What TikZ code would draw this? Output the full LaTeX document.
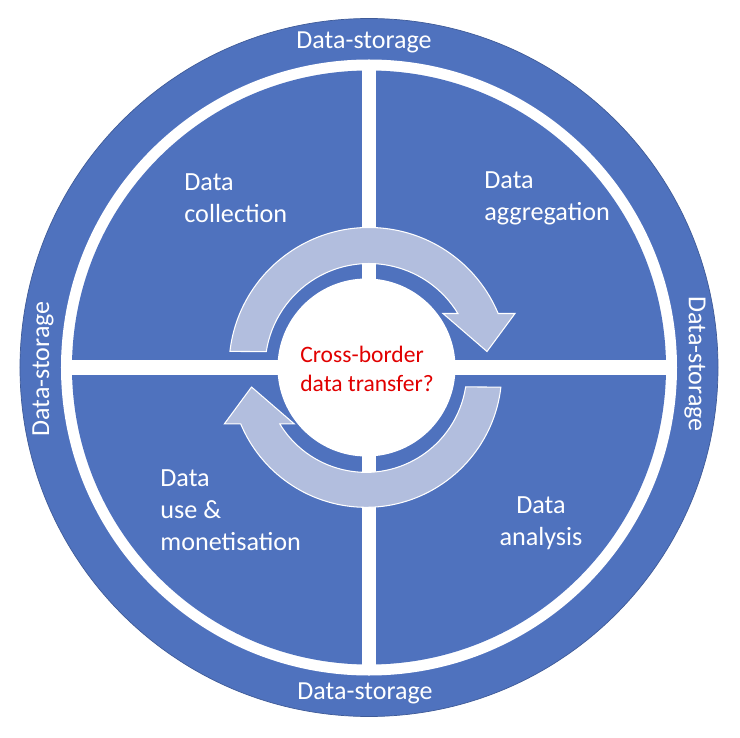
\documentclass[tikz,border=0pt]{standalone}
\usepackage{fontspec}
\setmainfont{Carlito}
\definecolor{ringblue}{RGB}{79,114,190}
\definecolor{cyclegrey}{RGB}{178,190,222}
\definecolor{askred}{RGB}{225,0,0}

\begin{document}
\begin{tikzpicture}[x=0.02cm, y=0.02cm]

\tikzstyle{storage}=[text=white, inner sep=0, font=\fontsize{14.8}{18}\selectfont]
\tikzstyle{phase}=[text=white, inner sep=0, anchor=west, align=left, font=\fontsize{14.9}{18.2}\selectfont]
\tikzstyle{cycle}=[fill=cyclegrey, draw=white, line width=0.6pt, line join=miter]
\tikzstyle{gap}=[fill=white]

\useasboundingbox (-369,-369.5) rectangle (371,367.5);

\filldraw [fill=ringblue, draw=ringblue!80!black, line width=0.4pt] (0,0) circle (349);
\fill [gap] (0,0) circle (308);
\fill [ringblue] (0,0) circle (297);
\fill [gap] (-300,-7.5) rectangle (300,7.5);
\fill [gap] (-7,-300) rectangle (7,300);

\draw [cycle] (173.4:140) arc (173.4:22.7:140) -- (146,54) -- (118,16) -- (74,54)
      -- (88.9,54) arc (31.3:171.2:104) -- cycle;
\draw [cycle, shift={(-3,-4)}, rotate=180, scale=0.97] (173.4:140) arc (173.4:22.7:140)
      -- (146,54) -- (118,16) -- (74,54) -- (88.9,54) arc (31.3:171.2:104) -- cycle;

\fill [gap] (-2.5,0) circle (89);

\node (storeN) [storage] at (-5,325) {Data-storage};
\node (storeS) [storage] at (-4,-326) {Data-storage};
\node (storeW) [storage, rotate=90] at (-326,-1.5) {Data-storage};
\node (storeE) [storage, rotate=-90] at (326,3.5) {Data-storage};

\node (collect) [phase] at (-185,169.5) {Data\\collection};
\node (aggr) [phase] at (115,169.5) {Data\\aggregation};
\node (use) [phase] at (-209,-142.5) {Data\\use \&\\monetisation};
\node (analyse) [phase, anchor=center, align=center] at (172,-155.5) {Data\\analysis};

\node (ask) [inner sep=0, anchor=west, align=left, text=askred,
             font=\fontsize{13.4}{16.5}\selectfont] at (-69,-1) {Cross-border\\data transfer?};

\end{tikzpicture}
\end{document}
